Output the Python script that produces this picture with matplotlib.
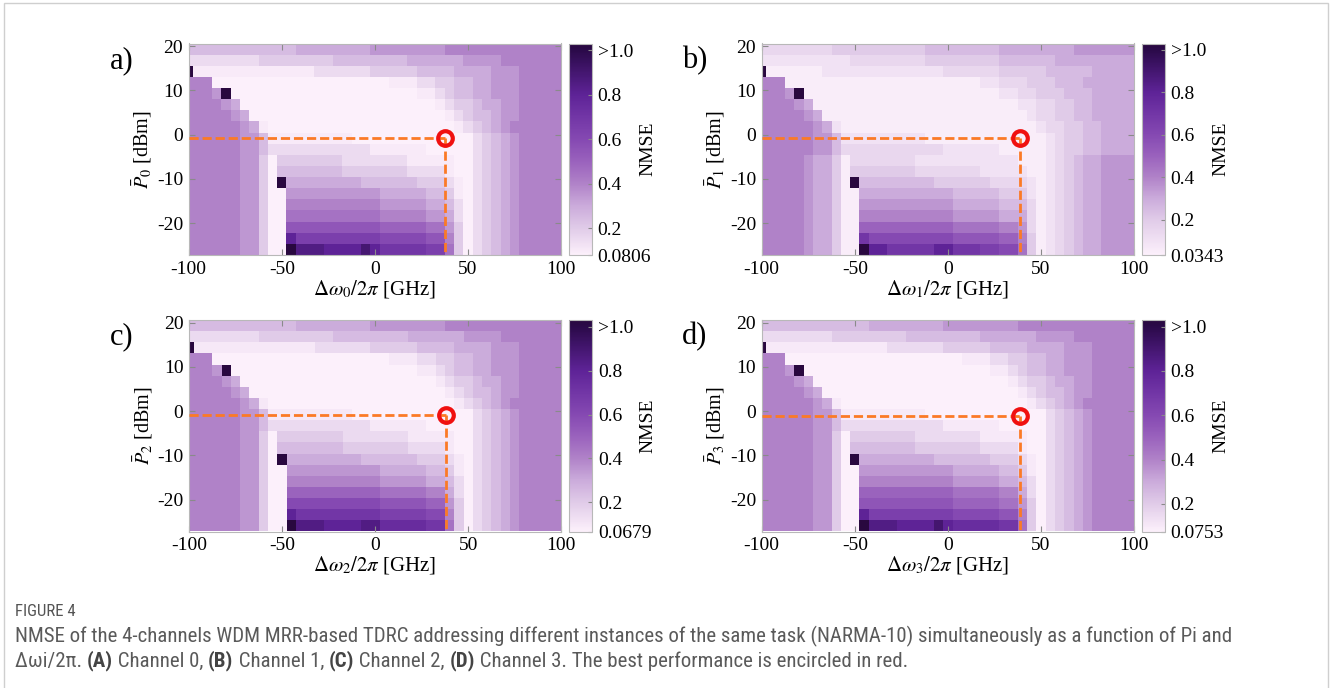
import numpy as np
import matplotlib
matplotlib.use("Agg")
import matplotlib.pyplot as plt
from matplotlib import font_manager
from matplotlib.colors import LinearSegmentedColormap, Normalize
from matplotlib.patches import Rectangle

plt.rcParams['font.family'] = ['Liberation Serif', 'DejaVu Serif']
plt.rcParams['mathtext.fontset'] = 'stix'
plt.rcParams['axes.unicode_minus'] = False

# ---------------------------------------------------------------------------
# Sweep grid: detuning of each channel (GHz) and mean input power (dBm)
detuning_ghz = np.arange(-100, 101, 5)                 # 41 detuning values
power_dbm = np.linspace(19.34, -25.94, 19)              # 19 power levels, top row first

# NMSE maps, one string per power level (top row first).
# Each token "c:n" = n consecutive cells with NMSE = int(c, 36) / 20
# ('z' marks runs that diverged, NMSE > 1).
NMSE_CH0 = [
    "5:6 5:6 6:8 7:8 8:13",
    "3:8 4:8 5:8 6:6 7:4 8:7",
    "z:1 2:13 3:6 4:5 5:4 6:4 7:3 8:5",
    "8:3 1:19 2:3 3:2 4:2 5:2 6:2 7:3 8:5",
    "8:3 7:1 z:1 1:20 2:2 3:1 4:1 5:2 6:2 7:3 8:5",
    "8:4 7:1 6:1 1:21 2:1 3:1 4:2 5:1 6:2 7:2 8:5",
    "8:5 7:1 6:1 1:21 2:1 3:1 4:1 5:2 6:1 7:2 8:5",
    "8:6 7:1 6:1 2:1 1:20 2:1 3:1 4:1 5:1 6:1 7:1 8:6",
    "8:6 7:2 5:1 2:9 1:13 3:1 4:1 5:1 6:1 7:1 8:5",
    "8:6 7:2 5:1 3:11 2:6 1:5 3:1 4:1 5:1 6:1 7:1 8:5",
    "8:6 7:2 4:1 1:1 4:1 4:6 3:7 2:4 2:1 1:1 1:1 3:1 4:1 5:1 6:1 7:1 8:5",
    "8:6 7:2 4:1 1:1 5:1 5:6 4:7 3:4 2:1 1:1 1:1 3:1 4:1 5:1 6:1 7:1 8:5",
    "8:6 7:2 4:1 1:1 z:1 6:8 5:6 4:3 3:1 2:1 1:1 3:1 4:1 5:1 6:1 7:1 8:5",
    "8:6 7:2 4:1 1:1 1:1 7:10 6:5 5:2 4:1 2:1 1:1 3:1 4:1 5:1 6:1 7:1 8:5",
    "8:6 7:2 4:1 1:1 1:1 8:10 7:5 6:2 5:1 3:1 1:1 3:1 4:1 5:1 6:1 7:1 8:5",
    "8:6 7:2 4:1 1:1 1:1 9:10 8:5 7:2 6:1 3:1 1:1 3:1 4:1 5:1 6:1 7:1 8:5",
    "8:6 7:2 4:1 1:1 1:1 b:10 a:5 9:2 7:1 4:1 1:1 3:1 4:1 5:1 6:1 7:1 8:5",
    "8:6 7:2 4:1 1:1 1:1 g:1 d:9 c:5 b:2 8:1 4:1 1:1 3:1 4:1 5:1 6:1 7:1 8:5",
    "8:6 7:2 4:1 1:1 1:1 z:1 h:3 g:4 i:1 g:1 e:5 d:2 9:1 4:1 1:1 3:1 4:1 5:1 6:1 7:1 8:5",
]

NMSE_CH1 = [
    "3:8 4:10 5:8 6:8 7:7",
    "2:10 3:8 4:8 5:6 6:9",
    "z:1 1:6 2:13 3:6 4:5 5:5 6:5",
    "8:3 1:21 2:2 3:3 4:3 5:3 6:6",
    "8:3 7:1 z:1 1:21 2:2 3:2 4:3 5:3 6:5",
    "8:4 7:1 6:1 1:22 2:2 3:2 4:2 5:2 6:5",
    "8:5 7:1 6:1 1:22 2:1 3:2 4:2 5:2 6:5",
    "8:6 7:1 6:1 2:1 1:21 2:1 3:2 4:2 5:2 6:4",
    "8:6 7:2 5:1 2:9 1:13 2:1 3:1 4:2 5:2 6:4",
    "8:6 7:2 5:1 3:11 2:6 1:5 2:1 3:1 4:2 5:2 6:4",
    "8:5 7:1 6:2 4:1 1:1 3:1 3:6 2:7 2:4 1:1 1:1 1:1 2:1 3:1 4:1 5:1 6:2 7:4",
    "8:5 7:1 6:2 4:1 1:1 4:1 4:6 3:7 2:4 2:1 1:1 1:1 2:1 3:1 4:1 5:1 6:2 7:4",
    "8:5 7:1 6:2 4:1 1:1 z:1 5:8 4:6 3:3 3:1 2:1 1:1 2:1 3:1 4:1 5:1 6:2 7:4",
    "8:5 7:1 6:2 4:1 1:1 1:1 6:10 5:5 4:2 4:1 2:1 1:1 2:1 3:1 4:1 5:1 6:2 7:4",
    "8:5 7:1 6:2 4:1 1:1 1:1 7:10 6:5 5:2 5:1 3:1 1:1 2:1 3:1 4:1 5:1 6:2 7:4",
    "8:5 7:1 6:2 4:1 1:1 1:1 8:10 7:5 6:2 6:1 3:1 1:1 2:1 3:1 4:1 5:1 6:2 7:4",
    "8:5 7:1 6:2 4:1 1:1 1:1 a:10 9:5 8:2 7:1 3:1 1:1 2:1 3:1 4:1 5:1 6:2 7:4",
    "8:5 7:1 6:2 4:1 1:1 1:1 e:1 c:9 b:5 a:2 8:1 4:1 1:1 2:1 3:1 4:1 5:1 6:2 7:4",
    "8:5 7:1 6:2 4:1 1:1 1:1 z:1 g:2 e:5 g:2 e:3 d:2 c:2 9:1 4:1 1:1 2:1 3:1 4:1 5:1 6:2 7:4",
]

NMSE_CH2 = [
    "5:6 5:6 6:8 7:8 8:13",
    "3:8 4:8 5:8 6:6 7:4 8:7",
    "z:1 2:13 3:6 4:5 5:4 6:4 7:3 8:5",
    "8:3 1:19 2:3 3:2 4:2 5:2 6:2 7:3 8:5",
    "8:3 7:1 z:1 1:20 2:2 3:1 4:1 5:2 6:2 7:3 8:5",
    "8:4 7:1 6:1 1:21 2:1 3:1 4:2 5:1 6:2 7:2 8:5",
    "8:5 7:1 6:1 1:21 2:1 3:1 4:1 5:2 6:1 7:2 8:5",
    "8:6 7:1 6:1 2:1 1:20 2:1 3:1 4:1 5:1 6:1 7:1 8:6",
    "8:6 7:2 5:1 2:9 1:13 3:1 4:1 5:1 6:1 7:1 8:5",
    "8:6 7:2 5:1 3:11 2:6 1:5 3:1 4:1 5:1 6:1 7:1 8:5",
    "8:6 7:2 4:1 1:1 4:1 4:6 3:7 2:4 2:1 1:1 1:1 3:1 4:1 5:1 6:1 7:1 8:5",
    "8:6 7:2 4:1 1:1 5:1 5:6 4:7 3:4 2:1 1:1 1:1 3:1 4:1 5:1 6:1 7:1 8:5",
    "8:6 7:2 4:1 1:1 z:1 6:8 5:6 4:3 3:1 2:1 1:1 3:1 4:1 5:1 6:1 7:1 8:5",
    "8:6 7:2 4:1 1:1 1:1 7:10 6:5 5:2 4:1 2:1 1:1 3:1 4:1 5:1 6:1 7:1 8:5",
    "8:6 7:2 4:1 1:1 1:1 8:10 7:5 6:2 5:1 3:1 1:1 3:1 4:1 5:1 6:1 7:1 8:5",
    "8:6 7:2 4:1 1:1 1:1 a:10 9:5 8:2 6:1 3:1 1:1 3:1 4:1 5:1 6:1 7:1 8:5",
    "8:6 7:2 4:1 1:1 1:1 c:10 b:5 a:2 7:1 4:1 1:1 3:1 4:1 5:1 6:1 7:1 8:5",
    "8:6 7:2 4:1 1:1 1:1 g:1 e:9 d:5 c:2 8:1 4:1 1:1 3:1 4:1 5:1 6:1 7:1 8:5",
    "8:6 7:2 4:1 1:1 1:1 z:1 h:3 g:4 h:2 f:5 e:2 9:1 4:1 1:1 3:1 4:1 5:1 6:1 7:1 8:5",
]

NMSE_CH3 = [
    "5:6 5:6 6:8 7:8 8:13",
    "3:8 4:8 5:8 6:6 7:4 8:7",
    "z:1 2:13 3:6 4:5 5:4 6:4 7:3 8:5",
    "8:3 1:19 2:3 3:2 4:2 5:2 6:2 7:3 8:5",
    "8:3 7:1 z:1 1:20 2:2 3:1 4:1 5:2 6:2 7:3 8:5",
    "8:4 7:1 6:1 1:21 2:1 3:1 4:2 5:1 6:2 7:2 8:5",
    "8:5 7:1 6:1 1:21 2:1 3:1 4:1 5:2 6:1 7:2 8:5",
    "8:6 7:1 6:1 2:1 1:20 2:1 3:1 4:1 5:1 6:1 7:1 8:6",
    "8:6 7:2 5:1 2:9 1:13 3:1 4:1 5:1 6:1 7:1 8:5",
    "8:6 7:2 5:1 3:11 2:6 1:5 3:1 4:1 5:1 6:1 7:1 8:5",
    "8:6 7:2 4:1 1:1 4:1 4:6 3:7 2:4 2:1 1:1 1:1 3:1 4:1 5:1 6:1 7:1 8:5",
    "8:6 7:2 4:1 1:1 5:1 5:6 4:7 3:4 2:1 1:1 1:1 3:1 4:1 5:1 6:1 7:1 8:5",
    "8:6 7:2 4:1 1:1 z:1 6:8 5:6 4:3 3:1 2:1 1:1 3:1 4:1 5:1 6:1 7:1 8:5",
    "8:6 7:2 4:1 1:1 1:1 7:10 6:5 5:2 4:1 2:1 1:1 3:1 4:1 5:1 6:1 7:1 8:5",
    "8:6 7:2 4:1 1:1 1:1 8:10 7:5 6:2 5:1 3:1 1:1 3:1 4:1 5:1 6:1 7:1 8:5",
    "8:6 7:2 4:1 1:1 1:1 a:10 9:5 8:2 6:1 3:1 1:1 3:1 4:1 5:1 6:1 7:1 8:5",
    "8:6 7:2 4:1 1:1 1:1 b:10 a:5 9:2 7:1 4:1 1:1 3:1 4:1 5:1 6:1 7:1 8:5",
    "8:6 7:2 4:1 1:1 1:1 g:1 d:9 c:5 b:2 8:1 4:1 1:1 3:1 4:1 5:1 6:1 7:1 8:5",
    "8:6 7:2 4:1 1:1 1:1 z:1 h:3 g:4 i:1 g:1 f:5 e:2 9:1 4:1 1:1 3:1 4:1 5:1 6:1 7:1 8:5",
]

# Lowest NMSE of each channel (colour-bar floor)
nmse_min = [0.0806, 0.0343, 0.0679, 0.0753]
# Best operating point of each channel
best_detuning_ghz = [37.5, 38.5, 38.0, 38.5]
best_power_dbm = [-0.8, -0.8, -0.9, -1.0]

panel_tags = ["a)", "b)", "c)", "d)"]
channel_ids = ["0", "1", "2", "3"]
cbar_ticks = [0.2, 0.4, 0.6, 0.8, 1.0]
cbar_ticklabels = ["0.2", "0.4", "0.6", "0.8", ">1.0"]
x_ticks = [-100, -50, 0, 50, 100]
y_ticks = [-20, -10, 0, 10, 20]


def decode(rows):
    grid = []
    for row in rows:
        vals = []
        for tok in row.split():
            code, count = tok.split(":")
            vals += [int(code, 36) / 20.0] * int(count)
        assert len(vals) == len(detuning_ghz), (row, len(vals))
        grid.append(vals)
    return np.array(grid)


maps = [decode(m) for m in (NMSE_CH0, NMSE_CH1, NMSE_CH2, NMSE_CH3)]

VMAX = 1.03
# colour anchors in NMSE units
anchor_vals = [0.2, 0.3, 0.4, 0.5, 0.6, 0.7, 0.8, 1.0]
anchor_cols = ['#e0cbe8', '#cbabdb', '#b082c8', '#9a62bd', '#8549b2',
               '#7236a6', '#5e2397', '#2b0a4a']


def make_cmap(vmin):
    pts = [(0.0, '#fcf0fb')]
    for v, c in zip(anchor_vals, anchor_cols):
        pts.append(((v - vmin) / (VMAX - vmin), c))
    pts.append((1.0, '#29083f'))
    return LinearSegmentedColormap.from_list("nmse", pts)


W, H = 1332, 688
fig = plt.figure(figsize=(W / 100, H / 100), dpi=100)

# outer frame
fig.patches.append(Rectangle((4 / W, -0.02), 1324 / W, 1.02 - 3 / H,
                             transform=fig.transFigure, fill=False,
                             edgecolor='#cfcfcf', linewidth=1.0))

ax_boxes = [
    (188.7, 43.5), (761.7, 43.5),
    (189.0, 320.0), (761.7, 320.0),
]
AX_W, AX_H = 372.3, 211.5
CB_GAP, CB_W = 8.0, 23.0

tick_gray = '#8a8a8a'
spine_gray = '#b8b8b8'
YLO, YHI = -27.2, 20.6

for k in range(4):
    x0, y0 = ax_boxes[k]
    ax = fig.add_axes([x0 / W, 1 - (y0 + AX_H) / H, AX_W / W, AX_H / H])
    vmin = nmse_min[k]
    cmap = make_cmap(vmin)
    norm = Normalize(vmin=vmin, vmax=VMAX, clip=True)
    mesh = ax.pcolormesh(detuning_ghz, power_dbm, maps[k], cmap=cmap,
                         norm=norm, shading='nearest', edgecolors='none',
                         antialiased=False)
    ax.set_xlim(-100, 100)
    ax.set_ylim(YLO, YHI)
    ax.set_xticks(x_ticks)
    ax.set_xticklabels([str(t) for t in x_ticks])
    ax.set_yticks(y_ticks)
    ax.set_yticklabels([str(t) for t in y_ticks])
    ax.tick_params(direction='in', length=4, width=0.8, color=tick_gray,
                   labelsize=14, top=True, right=True, pad=4)
    for sp in ax.spines.values():
        sp.set_color(spine_gray)
        sp.set_linewidth(0.8)

    bx, by = best_detuning_ghz[k], best_power_dbm[k]
    ax.plot([-100, bx], [by, by], linestyle=(0, (3.3, 1.4)), color='#fb7a26',
            linewidth=2.0, zorder=3)
    ax.plot([bx, bx], [by, YLO], linestyle=(0, (3.3, 1.4)), color='#fb7a26',
            linewidth=2.0, zorder=3)
    ax.plot([bx], [by], marker='o', markersize=10.5, markerfacecolor='none',
            markeredgecolor='#f01010', markeredgewidth=3.0, zorder=4)

    ch = channel_ids[k]
    ax.set_xlabel(r'$\Delta\omega_{%s}/2\pi$ [GHz]' % ch, fontsize=15)
    ax.xaxis.set_label_coords(0.5, -34.0 / AX_H)
    ax.xaxis.label.set_va('center')
    ax.set_ylabel(r'$\bar{P}_{%s}$ [dBm]' % ch, fontsize=14.5)
    ax.yaxis.set_label_coords(-46.0 / AX_W, 0.5)
    ax.yaxis.label.set_va('center')

    # colour bar
    cax = fig.add_axes([(x0 + AX_W + CB_GAP) / W, 1 - (y0 + AX_H) / H,
                        CB_W / W, AX_H / H])
    cb = fig.colorbar(mesh, cax=cax)
    cb.set_ticks([vmin] + cbar_ticks)
    cb.set_ticklabels([f"{vmin:g}"] + cbar_ticklabels)
    cax.tick_params(direction='in', length=3, width=0.8, color=tick_gray,
                    labelsize=14, pad=4)
    cb.outline.set_edgecolor(spine_gray)
    cb.outline.set_linewidth(0.8)
    cax.set_ylabel('NMSE', fontsize=14, rotation=90)
    cax.yaxis.set_label_coords((87 - CB_GAP) / CB_W, 0.5)
    cax.yaxis.label.set_va('center')

    fig.text((x0 - 67) / W, 1 - (y0 + 17) / H, panel_tags[k], fontsize=22,
             ha='center', va='center')

# ---------------------------------------------------------------------------
# caption
names = {f.name for f in font_manager.fontManager.ttflist}
cap_font = next(n for n in ['Liberation Sans Narrow', 'Roboto Condensed',
                            'Open Sans', 'DejaVu Sans'] if n in names)
cap_color = '#5a5a5a'
renderer = fig.canvas.get_renderer()

line1 = ("NMSE of the 4-channels WDM MRR-based TDRC addressing different instances "
         "of the same task (NARMA-10) simultaneously as a function of Pi and")
line2 = [("Δωi/2π. ", 'normal'), ("(A)", 'bold'), (" Channel 0, ", 'normal'),
         ("(B)", 'bold'), (" Channel 1, ", 'normal'), ("(C)", 'bold'),
         (" Channel 2, ", 'normal'), ("(D)", 'bold'),
         (" Channel 3. The best performance is encircled in red.", 'normal')]

probe = fig.text(0, 0, line1, fontsize=10, family=cap_font)
w10 = probe.get_window_extent(renderer).width
probe.remove()
cap_size = 10 * 1216 / w10

fig.text(15 / W, 1 - 612 / H, "FIGURE 4", fontsize=cap_size * 0.8,
         family=cap_font, color='#555555', va='center', ha='left')
fig.text(15 / W, 1 - 636 / H, line1, fontsize=cap_size, family=cap_font,
         color=cap_color, va='center', ha='left')


def seg_width(s, weight):
    a = fig.text(0, 0, "X" + s + "X", fontsize=cap_size, family=cap_font,
                 weight=weight)
    b = fig.text(0, 0, "XX", fontsize=cap_size, family=cap_font, weight=weight)
    w = a.get_window_extent(renderer).width - b.get_window_extent(renderer).width
    a.remove()
    b.remove()
    return w


xpix = 15.0
for s, wt in line2:
    fig.text(xpix / W, 1 - 661 / H, s, fontsize=cap_size, family=cap_font,
             color=cap_color if wt == 'normal' else '#444444', weight=wt,
             va='center', ha='left')
    xpix += seg_width(s, wt)

fig.savefig("out.png", dpi=100)
